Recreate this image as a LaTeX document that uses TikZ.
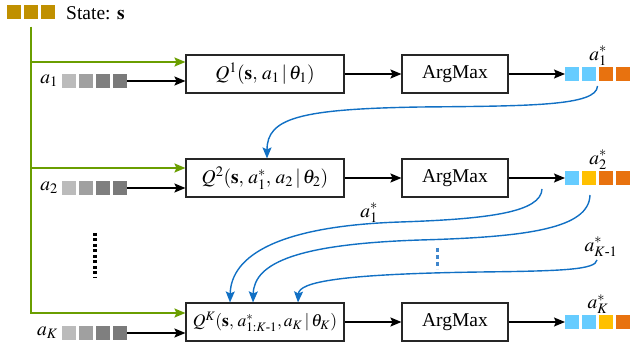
\documentclass[tikz,border=0pt]{standalone}
\usepackage{amsmath}
\usepackage{mathptmx}
\usepackage[no-math]{fontspec}
\setmainfont{Liberation Serif}
\usetikzlibrary{arrows.meta}
\definecolor{gold}{HTML}{C09000}
\definecolor{grn}{HTML}{6A9E00}
\definecolor{blu}{HTML}{1170C4}
\definecolor{dotblu}{HTML}{3F86CC}
\definecolor{lb}{HTML}{66CCFF}
\definecolor{ye}{HTML}{FFC000}
\definecolor{orr}{HTML}{E8720F}
\definecolor{ga}{HTML}{BBBBBB}
\definecolor{gb}{HTML}{A0A0A0}
\definecolor{gc}{HTML}{7F7F7F}
\definecolor{gd}{HTML}{7A7A7A}
\begin{document}
\begin{tikzpicture}[x=1pt,y=-1pt,font=\fontsize{19.5}{22}\selectfont,
  qbox/.style={draw=black!85,line width=1.1pt,minimum width=158pt,minimum height=38pt,inner sep=0pt},
  abox/.style={draw=black!85,line width=1.1pt,minimum width=106pt,minimum height=38pt,inner sep=0pt},
  sq/.style={minimum width=14pt,minimum height=14pt,inner sep=0pt,outer sep=0pt},
  tip/.style={-{Stealth[length=11pt,width=9pt,inset=2pt]}},
  barrow/.style={tip,line width=1.4pt,draw=black},
  garrow/.style={tip,line width=1.8pt,draw=grn,color=grn},
  blarrow/.style={tip,line width=1.4pt,draw=blu,color=blu},
  lab/.style={inner sep=1pt}]
\useasboundingbox (0,0) rectangle (631,352);

% state
\foreach \i in {0,1,2} \node[sq,fill=gold] (st\i) at (14+\i*17,12) {};
\node[anchor=west,inner sep=0pt] (stl) at (66,13) {State: $\mathbf{s}$};

% input rows
\foreach \r/\y in {1/81,2/188,K/333}{
  \foreach \c [count=\i] in {ga,gb,gc,gd} \node[sq,fill=\c] (in\r-\i) at (52+\i*17,\y) {};
}
\node[lab,anchor=east] (al1) at ([xshift=-3pt]in1-1.west) {$a_1$};
\node[lab,anchor=east] (al2) at ([xshift=-3pt]in2-1.west) {$a_2$};
\node[lab,anchor=east] (alK) at ([xshift=-3pt]inK-1.west) {$a_K$};

% boxes
\node[qbox] (q1) at (265,74) {$Q^1(\mathbf{s},\, a_1\,|\,\theta_1)$};
\node[qbox] (q2) at (265,178) {$Q^2(\mathbf{s},\, a^*_1,\, a_2\,|\,\theta_2)$};
\node[qbox,font=\fontsize{17.5}{20}\selectfont] (qK) at (265,322) {$Q^K(\mathbf{s},\, a^*_{1:K\text{-}1},a_K\,|\,\theta_K)$};
\node[abox] (am1) at (455,74) {ArgMax};
\node[abox] (am2) at (455,178) {ArgMax};
\node[abox] (amK) at (455,322) {ArgMax};

% output rows
\foreach \c [count=\i] in {lb,lb,orr,orr} \node[sq,fill=\c] (out1-\i) at (555+\i*17,74) {};
\foreach \c [count=\i] in {lb,ye,orr,orr} \node[sq,fill=\c] (out2-\i) at (555+\i*17,178) {};
\foreach \c [count=\i] in {lb,lb,ye,orr} \node[sq,fill=\c] (outK-\i) at (555+\i*17,322) {};
\node[lab] (as1) at (598,56) {$a^*_1$};
\node[lab] (as2) at (598,160) {$a^*_2$};
\node[lab] (asK) at (598,304) {$a^*_K$};
\node[lab] (asKm) at (601,247) {$a^*_{K\text{-}1}$};
\node[lab] (am1lab) at (369,213) {$a^*_1$};

% green connectors
\coordinate (g0) at (31,27);
\draw[garrow] (g0) |- ([yshift=12pt]q1.west);
\draw[garrow] (g0) |- ([yshift=10pt]q2.west);
\draw[garrow] (g0) |- ([yshift=9pt]qK.west);

% black connectors
\draw[barrow] (in1-4.east) -- (in1-4.east -| q1.west);
\draw[barrow] (in2-4.east) -- (in2-4.east -| q2.west);
\draw[barrow] (inK-4.east) -- (inK-4.east -| qK.west);
\draw[barrow] (q1) -- (am1);
\draw[barrow] (q2) -- (am2);
\draw[barrow] (qK) -- (amK);
\draw[barrow] (am1) -- (out1-1.west);
\draw[barrow] (am2) -- (out2-1.west);
\draw[barrow] (amK) -- (outK-1.west);

% blue connectors
\coordinate (b1) at ([shift={(1.5,5)}]out1-2.south east);
\draw[blarrow] (b1) .. controls (597,106) and (530,106) .. (420,107)
  .. controls (300,109) and (267,118) .. ([xshift=2pt]q2.north);
\coordinate (b2) at (542,189);
\draw[blarrow] (b2) .. controls (541,212) and (490,219) .. (400,222)
  .. controls (280,226) and (231,255) .. ([xshift=-35pt]qK.north);
\coordinate (b3) at ([shift={(-6,10)}]out2-2.south east);
\draw[blarrow] (b3) .. controls (589,228) and (530,237) .. (420,240)
  .. controls (300,244) and (254,262) .. ([xshift=-12pt]qK.north);
\coordinate (b4) at ([yshift=-2pt]asKm.south -| 597,0);
\draw[blarrow] (b4) .. controls (596,270) and (560,271) .. (480,272)
  .. controls (340,274) and (299,282) .. ([xshift=33pt]qK.north);

% ellipses
\draw[line width=3.2pt,dash pattern=on 3pt off 2.5pt] (95,233) -- (95,278);
\draw[dotblu,line width=3pt,dash pattern=on 4pt off 3pt] (437,248) -- (437,269);
\end{tikzpicture}
\end{document}
